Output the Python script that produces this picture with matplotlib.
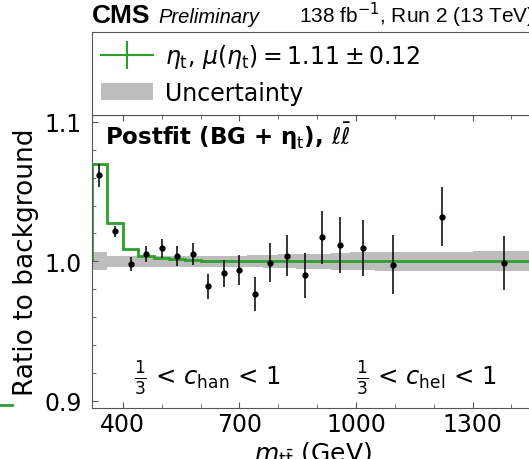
import matplotlib.pyplot as plt
from matplotlib.lines import Line2D
from matplotlib.patches import Patch
from matplotlib.ticker import FixedLocator, MultipleLocator

# bin edges in m_tt (GeV)
edges = [320, 360, 400, 440, 480, 520, 560, 600, 640, 680, 720, 760, 800,
         845, 890, 935, 985, 1050, 1140, 1300, 1460]
centers = [(a + b) / 2 for a, b in zip(edges[:-1], edges[1:])]

# data / background
data_ratio = [1.0619, 1.0217, 0.9980, 1.0050, 1.0093, 1.0040, 1.0053, 0.9821,
              0.9914, 0.9938, 0.9767, 0.9989, 1.0041, 0.9900, 1.0174, 1.0117,
              1.0096, 0.9976, 1.0321, 0.9986]
data_err = [0.0083, 0.0040, 0.0050, 0.0057, 0.0068, 0.0071, 0.0080, 0.0088,
            0.0095, 0.0110, 0.0120, 0.0140, 0.0148, 0.0163, 0.0190, 0.0200,
            0.0204, 0.0210, 0.0210, 0.0194]

# (BG + eta_t) / BG
sig_ratio = [1.0696, 1.0276, 1.0089, 1.0036, 1.0021, 1.0015, 1.0010, 1.0006,
             1.0004, 1.0002, 1.0001, 1.0, 1.0, 1.0, 1.0, 1.0, 1.0, 1.0, 1.0, 1.0]

# uncertainty half-width
unc = [0.0065, 0.0040, 0.0040, 0.0038, 0.0037, 0.0037, 0.0037, 0.0037, 0.0038,
       0.0040, 0.0042, 0.0045, 0.0050, 0.0052, 0.0055, 0.0060, 0.0065, 0.0070,
       0.0070, 0.0072]

green = '#2ca02c'
band = '#bdbdbd'
spine_col = '#555555'

W, H = 529, 460
fig = plt.figure(figsize=(W / 100, H / 100), dpi=100)
plt.rcParams['mathtext.fontset'] = 'dejavusans'

x0, x1 = 91.7, 534.8
ax = fig.add_axes([x0 / W, (H - 408.7) / H, (x1 - x0) / W, (408.7 - 116) / H])
ax_leg = fig.add_axes([x0 / W, (H - 116) / H, (x1 - x0) / W, (116 - 33) / H])

lo = [1 - u for u in unc] + [1 - unc[-1]]
hi = [1 + u for u in unc] + [1 + unc[-1]]
ax.fill_between(edges, lo, hi, step='post', color=band, lw=0)
ax.stairs(sig_ratio, edges, baseline=1.0, color=green, lw=2)
ax.errorbar(centers, data_ratio, yerr=data_err, fmt='o', color='black',
            ms=3.5, elinewidth=1.1, capsize=0)

ax.set_xlim(320, 1460)
ax.set_ylim(0.895, 1.105)
ax.xaxis.set_major_locator(FixedLocator([400, 700, 1000, 1300]))
ax.xaxis.set_minor_locator(MultipleLocator(100))
ax.yaxis.set_major_locator(FixedLocator([0.9, 1.0, 1.1]))
ax.yaxis.set_minor_locator(MultipleLocator(0.02))
ax.set_yticklabels(['0.9', '1.0', '1.1'])
ax.tick_params(which='both', direction='in', top=True, right=True,
               color=spine_col, labelsize=17)
ax.tick_params(which='major', length=4)
ax.tick_params(which='minor', length=3)
ax.tick_params(axis='x', pad=3)
ax.tick_params(axis='y', pad=7)
for s in ax.spines.values():
    s.set_color(spine_col)

ax.set_xlabel(r'$m_{\mathrm{t\bar{t}}}$ (GeV)', fontsize=18, labelpad=3)
ax.set_ylabel('Ratio to background', fontsize=19, labelpad=4)

ax.text(0.03, 0.93, r'Postfit (BG + $\mathbf{\eta}_{\mathrm{t}}$), $\ell\bar{\ell}$',
        transform=ax.transAxes, fontsize=16.5, fontweight='bold', va='center')
ax.text(430, 0.917, r'$\frac{1}{3}$ < $c_{\mathrm{han}}$ < 1', fontsize=17.5, va='center')
ax.text(1001, 0.917, r'$\frac{1}{3}$ < $c_{\mathrm{hel}}$ < 1', fontsize=17.5, va='center')

# legend box above the plot
ax_leg.set_xticks([])
ax_leg.set_yticks([])
for s in ax_leg.spines.values():
    s.set_color(spine_col)
handles = [Line2D([], [], color=green, lw=1.5, marker='|', ms=20, mew=1.5),
           Patch(color=band, lw=0)]
labels = [r'$\eta_{\mathrm{t}}$, $\mu(\eta_{\mathrm{t}}) = 1.11 \pm 0.12$', 'Uncertainty']
ax_leg.legend(handles, labels, loc='center left', frameon=False, fontsize=17,
              handlelength=2.2, handletextpad=0.5, labelspacing=0.45,
              borderaxespad=0.0, bbox_to_anchor=(0.0, 0.5))

# CMS header
ax_leg.text(0.0, 1.12, 'CMS', transform=ax_leg.transAxes, fontsize=19,
            fontweight='bold', family='Liberation Sans', va='baseline')
ax_leg.text(0.15, 1.12, 'Preliminary', transform=ax_leg.transAxes, fontsize=14.5,
            style='italic', family='Liberation Sans', va='baseline')
ax_leg.text(1.0, 1.12, r'138 fb$^{-1}$, Run 2 (13 TeV)', transform=ax_leg.transAxes,
            fontsize=15, family='Liberation Sans', va='baseline', ha='right')

# edge of the neighbouring panel
fig.add_artist(Line2D([0, 12 / W], [(H - 406) / H] * 2, color=green, lw=2))

fig.savefig('out.png', dpi=100)
